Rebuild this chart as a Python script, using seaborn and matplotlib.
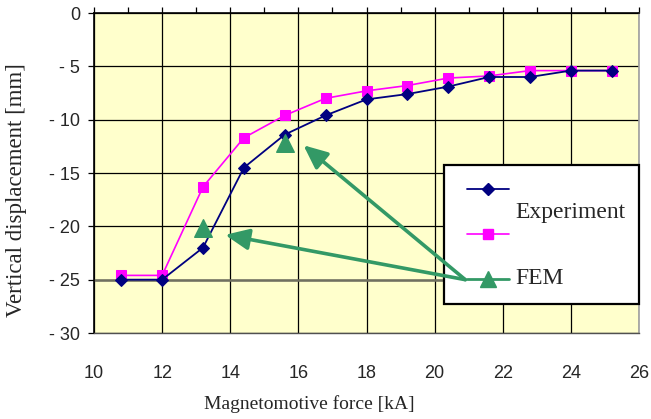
import matplotlib
matplotlib.use("Agg")
import matplotlib.pyplot as plt
from matplotlib.lines import Line2D
from matplotlib.patches import Rectangle
from matplotlib import font_manager
import seaborn as sns
import pandas as pd

# ---- data ----
mmf_ka = [10.8, 12.0, 13.2, 14.4, 15.6, 16.8, 18.0, 19.2, 20.4, 21.6, 22.8, 24.0, 25.2]
experiment = [-25.0, -25.0, -22.0, -14.5, -11.4, -9.6, -8.1, -7.6, -6.9, -6.0, -6.0, -5.4, -5.4]
series2 = [-24.6, -24.6, -16.3, -11.7, -9.6, -8.0, -7.3, -6.8, -6.1, -5.9, -5.4, -5.4, -5.4]
fem_x = [13.2, 15.6]
fem_y = [-20.2, -12.2]
x_ticks = [10, 12, 14, 16, 18, 20, 22, 24, 26]
y_ticks = [0, -5, -10, -15, -20, -25, -30]
y_tick_labels = ["0", "- 5", "- 10", "- 15", "- 20", "- 25", "- 30"]
legend_labels = ["Experiment", "", "FEM"]
x_label = "Magnetomotive force [kA]"
y_label = "Vertical displacement [mm]"

NAVY = "#000080"
MAGENTA = "#FF00FF"
GREEN = "#339966"
BG = "#FFFFCC"

sns.set_theme(style="white")
names = {f.name for f in font_manager.fontManager.ttflist}
tick_font = "Liberation Sans Narrow" if "Liberation Sans Narrow" in names else "Liberation Sans"
serif = "Liberation Serif"
plt.rcParams["font.family"] = [serif, "DejaVu Serif"]

fig = plt.figure(figsize=(6.51, 4.19), dpi=100)
ax = fig.add_axes([94 / 651, 1 - 333 / 419, 545 / 651, 320 / 419])
ax.set_facecolor(BG)

df = pd.DataFrame({"x": mmf_ka, "exp": experiment, "s2": series2})
sns.lineplot(data=df, x="x", y="s2", ax=ax, color=MAGENTA, marker="s", markersize=7.5,
             markeredgecolor=MAGENTA, linewidth=1.2, zorder=4)
sns.lineplot(data=df, x="x", y="exp", ax=ax, color=NAVY, marker="D", markersize=6,
             markeredgecolor=NAVY, linewidth=1.3, zorder=5)
fdf = pd.DataFrame({"x": fem_x, "y": fem_y})
sns.scatterplot(data=fdf, x="x", y="y", ax=ax, color=GREEN, marker="^", s=160,
                edgecolor=GREEN, zorder=6)

ax.set_xlim(10, 26)
ax.set_ylim(-30, 0)
ax.set_xticks(x_ticks)
ax.set_xticks(list(range(10, 27)), minor=True)
ax.set_yticks(y_ticks)
ax.set_yticklabels(y_tick_labels)
for lab in ax.get_xticklabels() + ax.get_yticklabels():
    lab.set_fontfamily(tick_font)
    lab.set_fontsize(13)

ax.grid(True, which="major", color="black", linewidth=0.9)
ax.axhline(-25, color="#707060", linewidth=1.8, zorder=1.5)
ax.set_axisbelow(True)

ax.tick_params(axis="x", which="both", bottom=False, top=True, labelbottom=True,
               labeltop=False, direction="out", length=4, width=0.9, color="black", pad=19)
ax.tick_params(axis="y", which="both", left=True, right=False, direction="out",
               length=4, width=0.9, color="black", pad=6)

for side, col, lw in [("left", "black", 1.2), ("top", "black", 1.2),
                      ("bottom", "#505050", 1.0), ("right", "#A0A0A0", 1.2)]:
    ax.spines[side].set_visible(True)
    ax.spines[side].set_color(col)
    ax.spines[side].set_linewidth(lw)

ax.set_xlabel(x_label, fontsize=14, family=[serif, "DejaVu Serif"])
ax.set_ylabel(y_label, fontsize=16.5, family=[serif, "DejaVu Serif"])
ax.xaxis.label.set_va("center")
ax.yaxis.label.set_va("center")
ax.xaxis.set_label_coords((309 - 94) / 545, (333 - 404) / 320)
ax.yaxis.set_label_coords((17 - 94) / 545, (333 - 190) / 320)

# ---- legend box (manual, to mimic layout) ----
T = ax.transAxes
box = Rectangle((0.642, 0.0906), 0.358, 0.434, transform=T, facecolor="white",
                edgecolor="black", linewidth=1.6, zorder=7, clip_on=False)
ax.add_patch(box)
ax.add_line(Line2D([0.684, 0.761], [0.45, 0.45], transform=T, color=NAVY, lw=1.3,
                   zorder=8, clip_on=False))
ax.add_line(Line2D([0.7225], [0.45], transform=T, color=NAVY, marker="D", ms=6,
                   zorder=8, clip_on=False))
ax.add_line(Line2D([0.684, 0.761], [0.309, 0.309], transform=T, color=MAGENTA, lw=1.2,
                   zorder=8, clip_on=False))
ax.add_line(Line2D([0.7225], [0.309], transform=T, color=MAGENTA, marker="s", ms=7.5,
                   zorder=8, clip_on=False))
ax.add_line(Line2D([0.684, 0.761], [0.169, 0.169], transform=T, color=GREEN, lw=2,
                   zorder=8, clip_on=False))
ax.add_line(Line2D([0.7225], [0.169], transform=T, color=GREEN, marker="^", ms=11,
                   zorder=8, clip_on=False))
ax.text(0.774, 0.378, legend_labels[0], transform=T, fontsize=17, va="center",
        ha="left", zorder=9)
ax.text(0.774, 0.169, legend_labels[2], transform=T, fontsize=17, va="center",
        ha="left", zorder=9)

# ---- arrows ----
start = (20.9, -25.0)
for tip in [(16.15, -12.4), (13.85, -20.8)]:
    ax.annotate("", xy=tip, xytext=start,
                arrowprops=dict(arrowstyle="-|>,head_length=0.9,head_width=0.4",
                                color=GREEN, lw=2.6, mutation_scale=16,
                                shrinkA=0, shrinkB=0),
                zorder=10)

fig.savefig("out.png", dpi=100)
